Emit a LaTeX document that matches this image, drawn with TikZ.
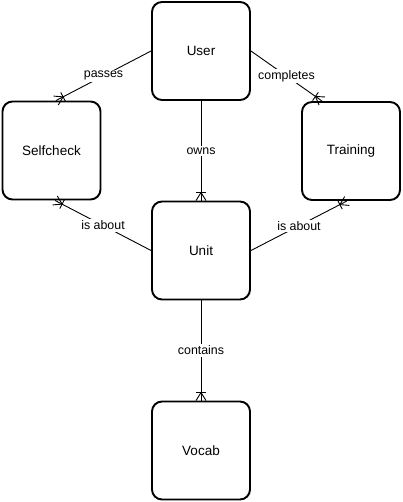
\documentclass[tikz,border=0pt]{standalone}
\usepackage{fontspec}
\setmainfont{Liberation Sans}
\usetikzlibrary{calc}
\newcommand\erlink[3]{%
  \draw[conn] (#1) -- node[lbl]{#3} (#2);
  \coordinate (q) at ($(#2)!8pt!(#1)$);
  \draw[conn] ($(q)!5pt!90:(#2)$) -- ($(q)!5pt!-90:(#2)$);
  \draw[conn] ($(#2)!5pt!90:(q)$) -- (q) -- ($(#2)!5pt!-90:(q)$);
}
\begin{document}
\begin{tikzpicture}[x=1pt,y=-1pt,
  entity/.style={draw, line width=1.9pt, rounded corners=10pt, minimum width=98pt, minimum height=98pt, fill=white, font=\fontsize{13.5}{16}\selectfont, inner sep=0pt},
  conn/.style={draw, line width=0.9pt},
  lbl/.style={fill=white, inner sep=1.5pt, font=\fontsize{12.4}{14}\selectfont}]
\useasboundingbox (0,0) rectangle (402,502);
\node[entity] (user) at (201,51) {User};
\node[entity] (sc) at (51.5,150.5) {Selfcheck};
\node[entity] (tr) at (351,151) {Training};
\node[entity] (unit) at (201,250.5) {Unit};
\node[entity] (voc) at (201,450.5) {Vocab};
\coordinate (sctop) at ([xshift=4.5pt]sc.north);
\coordinate (scbot) at ([xshift=3.5pt]sc.south);
\coordinate (trtop) at ([xshift=-29pt]tr.north);
\coordinate (trbot) at ([xshift=-4pt]tr.south);
\erlink{user.west}{sctop}{passes}
\erlink{user.east}{trtop}{completes}
\erlink{user.south}{unit.north}{owns}
\erlink{unit.west}{scbot}{is about}
\erlink{unit.east}{trbot}{is about}
\erlink{unit.south}{voc.north}{contains}
\end{tikzpicture}
\end{document}
